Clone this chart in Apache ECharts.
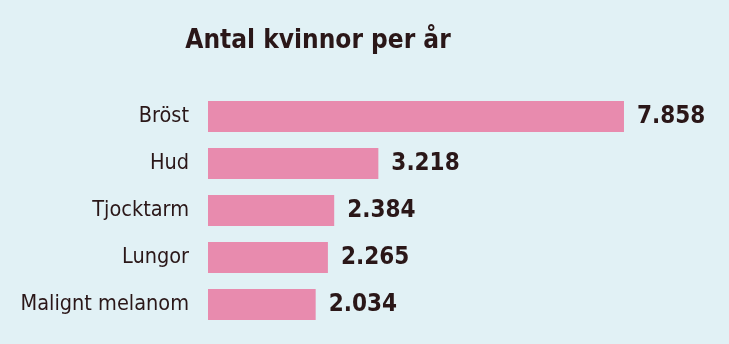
<!DOCTYPE html>
<html><head><meta charset="utf-8">
<script src="https://cdn.jsdelivr.net/npm/echarts@6/dist/echarts.min.js"></script>
<style>html,body{margin:0;padding:0;background:#E1F1F5;}#c{width:729px;height:344px;}</style>
</head><body><div id="c"></div>
<script>
var categories = ["Bröst", "Hud", "Tjocktarm", "Lungor", "Malignt melanom"];
var values = [7858, 3218, 2384, 2265, 2034];
var valueLabels = ["7.858", "3.218", "2.384", "2.265", "2.034"];
var titleText = "Antal kvinnor per år";

var FONT = '"Liberation Sans Narrow", "DejaVu Sans Condensed", sans-serif';
var chart = echarts.init(document.getElementById('c'));
chart.setOption({
  backgroundColor: '#E1F1F5',
  animation: false,
  title: {
    text: titleText, left: 313, top: 23, textAlign: 'center',
    textStyle: { fontFamily: FONT, fontWeight: 'bold', fontSize: 26, color: '#2A1718' }
  },
  grid: { left: 208, top: 93, height: 235, width: 423.5, outerBoundsMode: 'none', containLabel: false },
  xAxis: { type: 'value', min: 0, max: 8000, show: false },
  yAxis: {
    type: 'category', data: categories, inverse: true,
    axisLine: { show: false }, axisTick: { show: false },
    axisLabel: { margin: 19, fontFamily: FONT, fontSize: 21.5, color: '#2A1718' }
  },
  series: [{
    type: 'bar', data: values, barWidth: 31,
    itemStyle: { color: '#E88BAE' },
    label: {
      show: true, position: 'right', distance: 13,
      formatter: function (p) { return valueLabels[p.dataIndex]; },
      fontFamily: FONT, fontWeight: 'bold', fontSize: 24, color: '#2A1718'
    }
  }]
});
</script></body></html>
